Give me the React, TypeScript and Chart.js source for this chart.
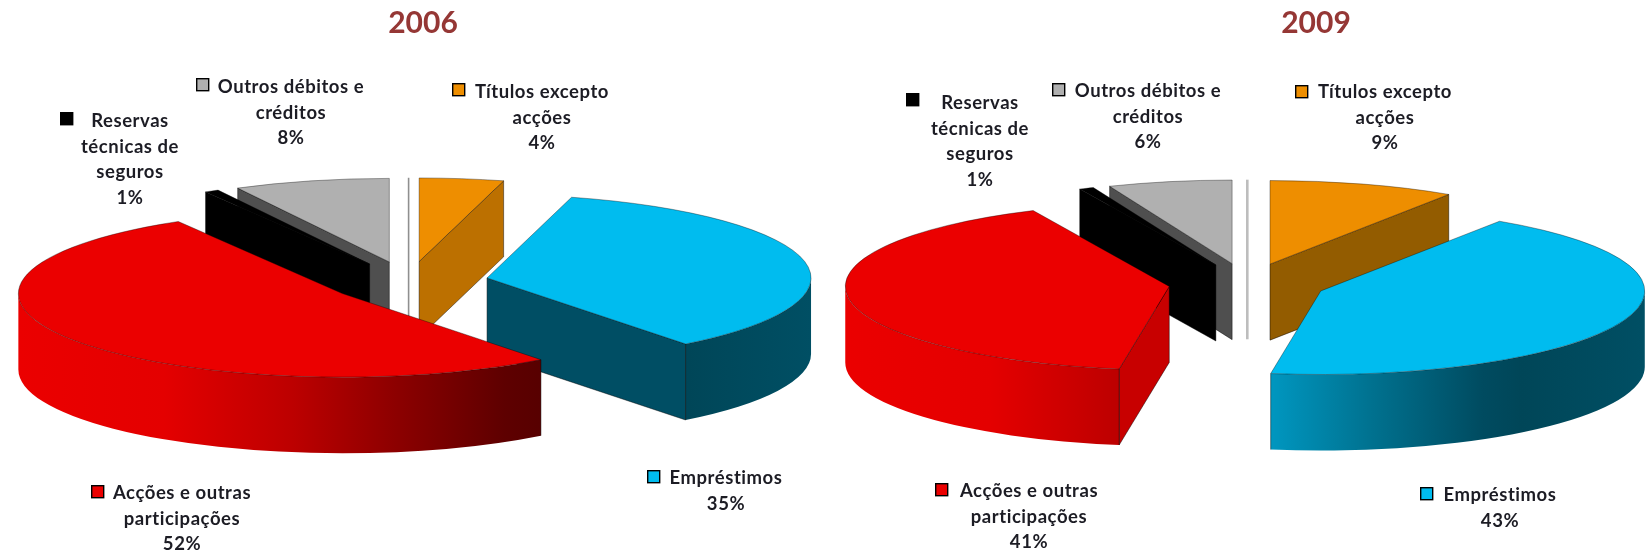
import React, { useEffect, useRef } from "react";
import { Chart, registerables } from "chart.js";

Chart.register(...registerables);

// ---- data (clockwise from 12 o'clock; the first, empty category is the hairline sliver at 12 o'clock)
const categories = ["", "Títulos excepto acções", "Empréstimos", "Acções e outras participações", "Reservas técnicas de seguros", "Outros débitos e créditos"];
const values2006 = [0, 4.2, 35.3, 52.05, 0.7, 7.75];
const values2009 = [0, 9.3, 43.17, 40.63, 0.73, 6.17];
const titles = ["2006", "2009"];
const labelLines = [
  [],
  ["Títulos excepto", "acções"],
  ["Empréstimos"],
  ["Acções e outras", "participações"],
  ["Reservas", "técnicas de", "seguros"],
  ["Outros débitos e", "créditos"],
];

// ---- styles
const topColors = ["#bdbdbd", "#EE8E00", "#00BCEF", "#EB0000", "#000000", "#B0B0B0"];
const cutColors2006 = ["#8f8f8f", "#BC7000", "#004E64", "#C80000", "#000000", "#4F4F4F"];
const cutColors2009 = ["#bdbdbd", "#935C00", "#004E64", "#C80000", "#000000", "#4F4F4F"];
const wallShade: [number, number][] = [[-1, 1], [-0.55, 0.97], [-0.15, 0.8], [0.16, 0.6], [0.5, 0.4], [0.62, 0.37], [1, 0.42]];
const paintOrder = [0, 1, 5, 4, 2, 3];

// ---- layout
const RADIUS = 324;
const SQUASH = 0.258;
const DEPTH = 76;
const FONT = "Lato, 'Open Sans', sans-serif";
const LINE_H = 25.6;
const layoutLeft = {
  canvasX: 0, width: 823, padding: { top: 14, right: 5.8 }, explode: 80, sliver: 1.6,
  title: [423, 23],
  // text centre x, first line y, key x, key y
  labels: [null, [542, 92, 452, 83], [726, 478, 647, 470], [182, 493, 91, 485], [130, 121, 60, 112], [291, 87, 196, 78]],
};
const layoutRight = {
  canvasX: 823, width: 824, padding: { top: 17.2, left: 24.6 }, explode: 78.8, sliver: 2.6,
  title: [1316, 23],
  labels: [null, [1385, 92, 1295, 85], [1500, 495, 1420, 487], [1029, 491, 935, 483], [980, 103, 906, 93], [1148, 91, 1052, 83]],
};

function shade(hex: string, f: number) {
  const n = parseInt(hex.slice(1), 16);
  const c = (v: number) => Math.round(v * f);
  return `rgb(${c((n >> 16) & 255)},${c((n >> 8) & 255)},${c(n & 255)})`;
}

function pie3dPlugin(values: number[], layout: any, cutColors: string[], title: string) {
  return {
    id: "pie3d",
    beforeDatasetsDraw(chart: any) {
      const ctx = chart.ctx;
      const arcs = chart.getDatasetMeta(0).data;
      paintOrder.forEach((i) => {
        const el = arcs[i];
        const s = el.startAngle;
        const e = el.endAngle;
        const R = el.outerRadius;
        const mid = (s + e) / 2;
        const ax = el.x + Math.cos(mid) * layout.explode;
        const ay = el.y + Math.sin(mid) * layout.explode * SQUASH;
        const rim = (a: number) => [ax + R * Math.cos(a), ay + R * SQUASH * Math.sin(a)];

        const cutFace = (a: number) => {
          const [rx, ry] = rim(a);
          ctx.beginPath();
          ctx.moveTo(ax, ay);
          ctx.lineTo(rx, ry);
          ctx.lineTo(rx, ry + DEPTH);
          ctx.lineTo(ax, ay + DEPTH);
          ctx.closePath();
          ctx.fillStyle = cutColors[i];
          ctx.fill();
          ctx.strokeStyle = "rgba(0,0,0,0.45)";
          ctx.lineWidth = 1;
          ctx.stroke();
        };

        if (e - s < 1e-6) {
          const [rx, ry] = rim(s);
          ctx.beginPath();
          ctx.moveTo(rx, ry);
          ctx.lineTo(rx, ay + DEPTH);
          ctx.strokeStyle = cutColors[i];
          ctx.lineWidth = layout.sliver;
          ctx.stroke();
          return;
        }

        if (Math.cos(e) > 1e-3) cutFace(e);
        if (Math.cos(s) < -1e-3) cutFace(s);

        const lo = Math.max(s, 0);
        const hi = Math.min(e, Math.PI);
        if (hi > lo) {
          const g = ctx.createLinearGradient(ax - R, 0, ax + R, 0);
          wallShade.forEach(([t, f]) => g.addColorStop((t + 1) / 2, shade(topColors[i], f)));
          ctx.beginPath();
          ctx.ellipse(ax, ay, R, R * SQUASH, 0, lo, hi);
          ctx.ellipse(ax, ay + DEPTH, R, R * SQUASH, 0, hi, lo, true);
          ctx.closePath();
          ctx.fillStyle = g;
          ctx.fill();
          ctx.beginPath();
          const [x1, y1] = rim(lo);
          const [x2, y2] = rim(hi);
          if (lo > 0) { ctx.moveTo(x1, y1); ctx.lineTo(x1, y1 + DEPTH); }
          if (hi < Math.PI) { ctx.moveTo(x2, y2); ctx.lineTo(x2, y2 + DEPTH); }
          ctx.strokeStyle = "rgba(0,0,0,0.45)";
          ctx.lineWidth = 1;
          ctx.stroke();
        }

        ctx.save();
        ctx.translate(ax, ay);
        ctx.scale(1, SQUASH);
        ctx.translate(-el.x, -el.y);
        el.draw(ctx);
        ctx.restore();
      });
      return false;
    },
    afterDraw(chart: any) {
      const ctx = chart.ctx;
      ctx.save();
      ctx.textAlign = "center";
      ctx.textBaseline = "middle";
      ctx.fillStyle = "#953735";
      ctx.font = `700 30px ${FONT}`;
      ctx.fillText(title, layout.title[0] - layout.canvasX, layout.title[1]);
      ctx.font = `700 18.5px ${FONT}`;
      ctx.letterSpacing = "0.55px";
      categories.forEach((_, i) => {
        const pos = layout.labels[i];
        if (!pos) return;
        const [tx, ty, kx, ky] = pos;
        const lines = [...labelLines[i], `${Math.round(values[i])}%`];
        ctx.fillStyle = "#1c1c24";
        lines.forEach((line: string, n: number) => ctx.fillText(line, tx - layout.canvasX, ty + n * LINE_H));
        ctx.fillStyle = topColors[i];
        ctx.strokeStyle = "#000";
        ctx.lineWidth = 1.4;
        ctx.fillRect(kx - layout.canvasX + 0.7, ky + 0.7, 12, 12);
        ctx.strokeRect(kx - layout.canvasX + 0.7, ky + 0.7, 12, 12);
      });
      ctx.restore();
    },
  };
}

function Pie({ values, layout, cutColors, title }: any) {
  const ref = useRef<HTMLCanvasElement>(null);
  useEffect(() => {
    const chart = new Chart(ref.current!, {
      type: "pie",
      data: {
        labels: categories,
        datasets: [{
          data: values,
          backgroundColor: topColors,
          borderColor: "rgba(0,0,0,0.55)",
          borderWidth: 1,
          hoverOffset: 0,
        }],
      },
      options: {
        animation: false,
        responsive: false,
        radius: RADIUS,
        layout: { padding: layout.padding },
        events: [],
        plugins: { legend: { display: false }, tooltip: { enabled: false } },
      },
      plugins: [pie3dPlugin(values, layout, cutColors, title)],
    } as any);
    return () => chart.destroy();
  }, []);
  return (
    <canvas
      ref={ref}
      width={layout.width}
      height={550}
      style={{ position: "absolute", left: layout.canvasX, top: 0, display: "block", width: layout.width, height: 550, filter: "blur(0.45px)" }}
    />
  );
}

export default function App() {
  return (
    <div style={{ position: "absolute", left: 0, top: 0, width: 1647, height: 550, background: "#fff", overflow: "hidden" }}>
      <Pie values={values2006} layout={layoutLeft} cutColors={cutColors2006} title={titles[0]} />
      <Pie values={values2009} layout={layoutRight} cutColors={cutColors2009} title={titles[1]} />
    </div>
  );
}
